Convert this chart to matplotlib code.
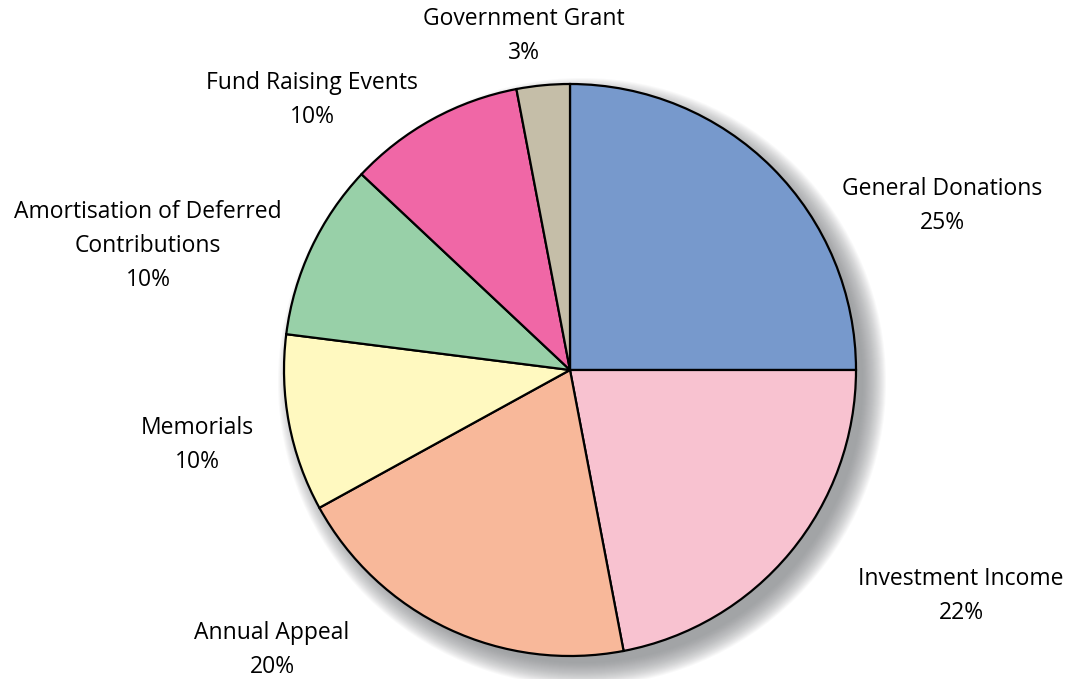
import matplotlib.pyplot as plt
from matplotlib.patches import Circle

# --- Data ---
labels = ['General Donations', 'Investment Income', 'Annual Appeal', 'Memorials',
          'Amortisation of Deferred\nContributions', 'Fund Raising Events', 'Government Grant']
values = [25, 22, 20, 10, 10, 10, 3]
colors = ['#7799CC', '#F8C2D0', '#F8B89A', '#FFF9C0', '#98D0A8', '#F067A6', '#C5BEA8']

# label anchor positions in pixels (x, y from top)
label_pos = [(942, 206), (961, 596), (272, 650), (197, 445),
             (148, 246), (312, 100), (524, 36)]

W, H = 1075, 679
fig = plt.figure(figsize=(W / 100, H / 100), dpi=100)
ax = fig.add_axes([0, 0, 1, 1])

cx, cy, r = 570, H - 370, 286

# soft drop shadow
for i in range(24):
    ax.add_patch(Circle((cx + 12, cy - 12), r + 18 - i, color='#7c7e82',
                        alpha=0.045, lw=0, zorder=0))

ax.pie(values, colors=colors, startangle=90, counterclock=False,
       center=(cx, cy), radius=r, frame=True,
       wedgeprops=dict(edgecolor='black', linewidth=1.6))

for lab, v, (px, py) in zip(labels, values, label_pos):
    ax.text(px, H - py, f'{lab}\n{v}%', ha='center', va='center',
            fontsize=16.5, family='Open Sans', linespacing=1.57)

ax.set_xlim(0, W)
ax.set_ylim(0, H)
ax.set_aspect('equal')
ax.axis('off')

fig.savefig('out.png', dpi=100)
